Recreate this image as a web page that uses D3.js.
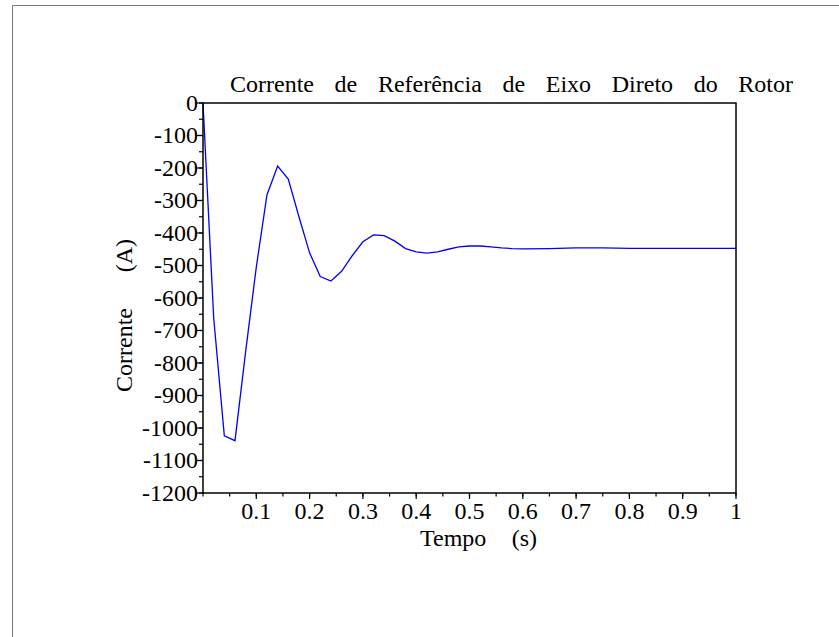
<!DOCTYPE html>
<html>
<head>
<meta charset="utf-8">
<script src="https://cdn.jsdelivr.net/npm/d3@7"></script>
<style>
  html, body { margin: 0; padding: 0; background: #fff; }
  svg { display: block; }
  text { font-family: "Liberation Serif", "Times New Roman", serif; fill: #000; }
</style>
</head>
<body>
<script>
// Rotor direct-axis reference current over time
const tempo = [0, 0.02, 0.04, 0.06, 0.08, 0.10, 0.12, 0.14, 0.16, 0.18,
  0.20, 0.22, 0.24, 0.26, 0.28, 0.30, 0.32, 0.34, 0.36, 0.38,
  0.40, 0.42, 0.44, 0.46, 0.48, 0.50, 0.52, 0.54, 0.56, 0.58,
  0.60, 0.65, 0.70, 0.75, 0.80, 0.85, 0.90, 0.95, 1.00];
const corrente = [0, -660, -1024, -1039, -765, -505, -283, -194, -234, -350,
  -461, -534, -548, -518, -470, -427, -406, -408, -425, -448,
  -458, -462, -458, -450, -443, -440, -440, -443, -446, -448,
  -449, -448, -446, -446, -447, -447, -447, -447, -447];
const xTicks = [0.1, 0.2, 0.3, 0.4, 0.5, 0.6, 0.7, 0.8, 0.9, 1];
const yTicks = [0, -100, -200, -300, -400, -500, -600, -700, -800, -900, -1000, -1100, -1200];
const titulo = "Corrente de Referência de Eixo Direto do Rotor";
const rotuloX = "Tempo  (s)";
const rotuloY = "Corrente  (A)";

const W = 839, H = 637;
const plot = { left: 203, right: 736, top: 103, bottom: 493 };

const svg = d3.select("body").append("svg").attr("width", W).attr("height", H);

// outer figure frame (left and top edges)
svg.append("path")
  .attr("d", `M12.5,${H} L12.5,5.5 L${W},5.5`)
  .attr("fill", "none").attr("stroke", "#777").attr("stroke-width", 1);

const x = d3.scaleLinear().domain([0, 1]).range([plot.left, plot.right]);
const y = d3.scaleLinear().domain([-1200, 0]).range([plot.bottom, plot.top]);

// minor ticks
const xMinor = d3.range(0, 21).map(i => i * 0.05);
const yMinor = d3.range(0, 25).map(i => -i * 50);

const fs = 24;

// bottom axis
const gx = svg.append("g").attr("transform", `translate(0,${plot.bottom})`);
gx.selectAll("line.minor").data(xMinor).join("line")
  .attr("x1", d => x(d)).attr("x2", d => x(d)).attr("y1", 0).attr("y2", 3.5)
  .attr("stroke", "#000").attr("stroke-width", 1.2);
gx.selectAll("line.major").data(xTicks).join("line")
  .attr("x1", d => x(d)).attr("x2", d => x(d)).attr("y1", 0).attr("y2", 6)
  .attr("stroke", "#000").attr("stroke-width", 1.2);
gx.selectAll("text").data(xTicks).join("text")
  .attr("x", d => x(d)).attr("y", 26)
  .attr("text-anchor", "middle").attr("font-size", fs)
  .text(d => d3.format("~g")(d));

// left axis
const gy = svg.append("g").attr("transform", `translate(${plot.left},0)`);
gy.selectAll("line.minor").data(yMinor).join("line")
  .attr("x1", -4).attr("x2", 0).attr("y1", d => y(d)).attr("y2", d => y(d))
  .attr("stroke", "#000").attr("stroke-width", 1.2);
gy.selectAll("line.major").data(yTicks).join("line")
  .attr("x1", -7).attr("x2", 0).attr("y1", d => y(d)).attr("y2", d => y(d))
  .attr("stroke", "#000").attr("stroke-width", 1.2);
gy.selectAll("text").data(yTicks).join("text")
  .attr("x", -5).attr("y", d => y(d)).attr("dy", "0.33em")
  .attr("text-anchor", "end").attr("font-size", fs)
  .text(d => String(d));

// curve
const line = d3.line().x((d, i) => x(tempo[i])).y(d => y(d));
svg.append("path").datum(corrente)
  .attr("d", line)
  .attr("fill", "none").attr("stroke", "#0000ff").attr("stroke-width", 1.3)
  .attr("stroke-linejoin", "miter");

// plot box
svg.append("rect")
  .attr("x", plot.left).attr("y", plot.top)
  .attr("width", plot.right - plot.left).attr("height", plot.bottom - plot.top)
  .attr("fill", "none").attr("stroke", "#000").attr("stroke-width", 1.5);

// text with spaced words stretched to a given width
function spaced(sel, width) {
  const n = (sel.text().match(/ /g) || []).length;
  const w0 = sel.node().getComputedTextLength();
  if (n > 0) sel.attr("word-spacing", (width - w0) / n);
}

const t = svg.append("text")
  .attr("x", 230).attr("y", 92).attr("font-size", fs).attr("xml:space", "preserve")
  .text(titulo);
spaced(t, 563);

const lx = svg.append("text")
  .attr("x", 420).attr("y", 546).attr("font-size", fs).attr("xml:space", "preserve")
  .text(rotuloX);
spaced(lx, 117);

const ly = svg.append("text")
  .attr("transform", `translate(132,392) rotate(-90)`)
  .attr("font-size", fs).attr("xml:space", "preserve")
  .text(rotuloY);
spaced(ly, 153);
</script>
</body>
</html>
